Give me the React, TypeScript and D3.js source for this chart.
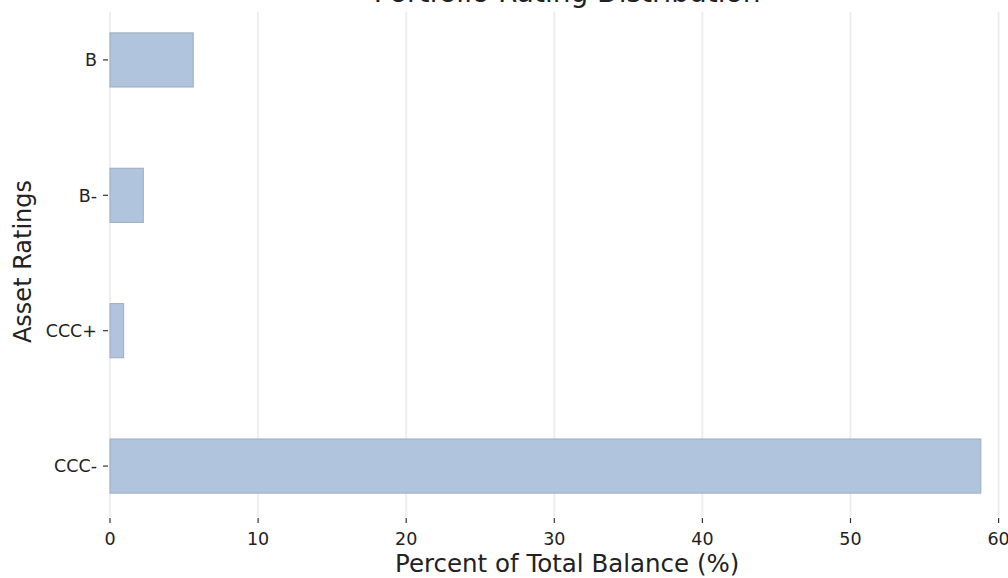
import React from "react";
import * as d3 from "d3";

const categories = ["B", "B-", "CCC+", "CCC-"];
const values = [5.62, 2.25, 0.92, 58.8];
const xTicks = [0, 10, 20, 30, 40, 50, 60];
const title = "Portfolio Rating Distribution";
const xLabel = "Percent of Total Balance (%)";
const yLabel = "Asset Ratings";

const W = 1008;
const H = 578;
const FONT = "DejaVu Sans, sans-serif";

export default function App() {
  const xMax = d3.max(values)! * 1.05;
  const x = d3.scaleLinear().domain([0, xMax]).range([110, 110 + xMax * 14.81]);
  const y = d3
    .scaleBand<string>()
    .domain(categories)
    .range([12, 514])
    .paddingInner(0.6)
    .paddingOuter(0.154);
  const plotTop = 12;
  const plotBottom = 517;
  const cx = (x.range()[0] + x.range()[1]) / 2;
  const cy = (plotTop + plotBottom) / 2 - 3;

  return (
    <svg
      width={W}
      height={H}
      style={{ position: "absolute", left: 0, top: 0, background: "#fff" }}
      fontFamily={FONT}
    >
      {/* grid */}
      {xTicks.map((t) => (
        <line
          key={"g" + t}
          x1={x(t)}
          x2={x(t)}
          y1={plotTop}
          y2={plotBottom}
          stroke="#ececec"
          strokeWidth={1.8}
        />
      ))}
      {/* bars */}
      {categories.map((c, i) => (
        <rect
          key={c}
          x={x(0)}
          y={y(c)!}
          width={x(values[i]) - x(0)}
          height={y.bandwidth()}
          fill="#b0c4de"
          stroke="#9eabbd"
          strokeWidth={1}
        />
      ))}
      {/* x ticks */}
      {xTicks.map((t) => (
        <g key={"xt" + t}>
          <line x1={x(t)} x2={x(t)} y1={518} y2={523} stroke="#333" strokeWidth={1.2} />
          <text x={x(t)} y={545} textAnchor="middle" fontSize={17.5} fill="#222">
            {t}
          </text>
        </g>
      ))}
      {/* y ticks */}
      {categories.map((c) => {
        const yc = y(c)! + y.bandwidth() / 2;
        return (
          <g key={"yt" + c}>
            <line x1={103} x2={108} y1={yc} y2={yc} stroke="#333" strokeWidth={1.2} />
            <text x={97} y={yc} dy="0.36em" textAnchor="end" fontSize={17.5} fill="#222">
              {c}
            </text>
          </g>
        );
      })}
      {/* labels */}
      <text x={cx} y={572} textAnchor="middle" fontSize={24.5} fill="#222">
        {xLabel}
      </text>
      <text
        transform={`translate(31,${cy}) rotate(-90)`}
        textAnchor="middle"
        fontSize={24}
        fill="#222"
      >
        {yLabel}
      </text>
      <text x={cx} y={2} textAnchor="middle" fontSize={28} fill="#222">
        {title}
      </text>
    </svg>
  );
}
